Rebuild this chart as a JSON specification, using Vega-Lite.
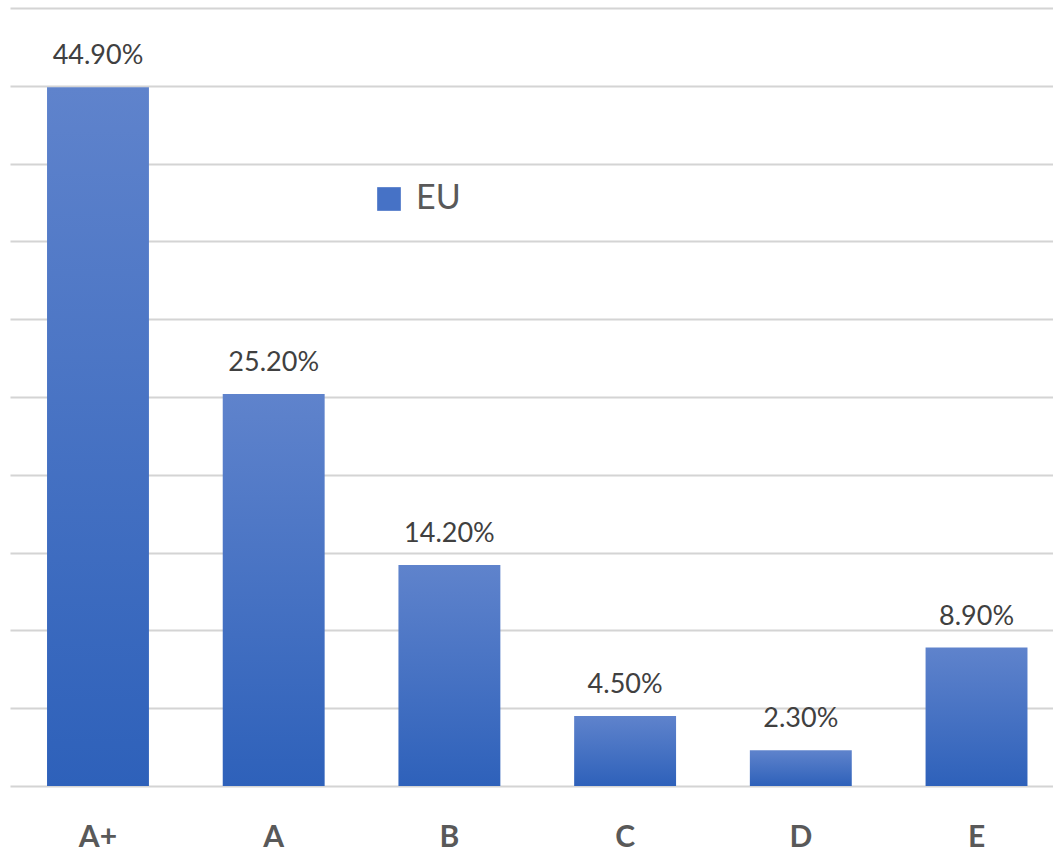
{
  "$schema": "https://vega.github.io/schema/vega-lite/v6.json",
  "width": 1043,
  "height": 778,
  "padding": {"left": 10, "top": 8, "right": 0, "bottom": 0},
  "autosize": {"type": "pad"},
  "background": "white",
  "config": {"view": {"stroke": null}},
  "data": {"values": [
    {"grade": "A+", "share": 0.449, "series": "EU"},
    {"grade": "A", "share": 0.252, "series": "EU"},
    {"grade": "B", "share": 0.142, "series": "EU"},
    {"grade": "C", "share": 0.045, "series": "EU"},
    {"grade": "D", "share": 0.023, "series": "EU"},
    {"grade": "E", "share": 0.089, "series": "EU"}
  ]},
  "encoding": {
    "x": {
      "field": "grade", "type": "nominal", "sort": null,
      "scale": {"paddingInner": 0.42, "paddingOuter": 0.178, "align": 0.592},
      "axis": {"title": null, "domain": false, "ticks": false, "labelAngle": 0,
               "labelFont": "Lato", "labelFontSize": 30, "labelFontWeight": "bold",
               "labelColor": "#595959", "labelPadding": 36}
    },
    "y": {
      "field": "share", "type": "quantitative",
      "scale": {"domain": [0, 0.5], "nice": false},
      "axis": {"title": null, "labels": false, "ticks": false, "domain": false,
               "values": [0, 0.05, 0.1, 0.15, 0.2, 0.25, 0.3, 0.35, 0.4, 0.45, 0.5],
               "gridColor": "#d4d4d4", "gridWidth": 1.8}
    }
  },
  "layer": [
    {
      "mark": {"type": "bar", "color": {"gradient": "linear", "x1": 0, "y1": 0, "x2": 0, "y2": 1,
                     "stops": [{"offset": 0, "color": "#5f83cc"}, {"offset": 1, "color": "#2e61ba"}]}}
    },
    {
      "mark": {"type": "point", "filled": true, "color": "#4672c6", "size": 0, "opacity": 1},
      "encoding": {
        "shape": {
          "field": "series", "type": "nominal",
          "scale": {"range": ["square"]},
          "legend": {"title": null, "orient": "none", "legendX": 362, "legendY": 174,
                     "symbolSize": 560, "labelFont": "Lato", "symbolFillColor": "#4672c6",
                     "labelFontSize": 34, "labelColor": "#595959", "symbolStrokeWidth": 0,
                     "labelOffset": 10}
        }
      }
    },
    {
      "mark": {"type": "text", "baseline": "bottom", "dy": -17, "font": "Lato", "fontSize": 27, "color": "#404040"},
      "encoding": {
        "text": {"field": "share", "type": "quantitative", "format": ".2%"}
      }
    }
  ]
}
